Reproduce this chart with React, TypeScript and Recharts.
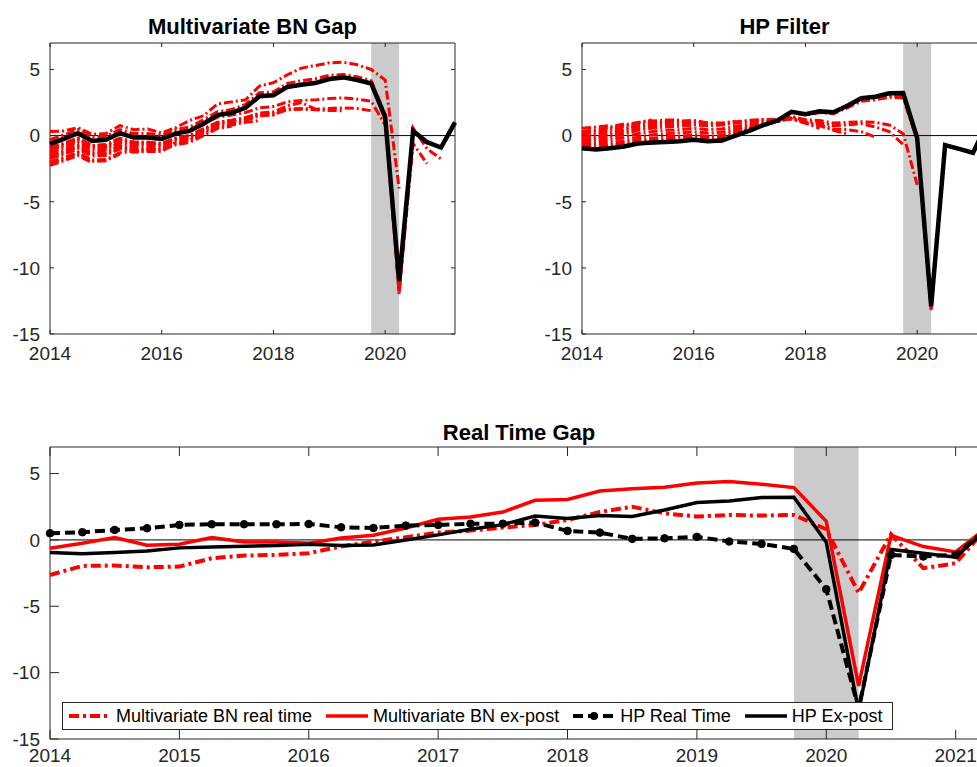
import React from "react";
import { LineChart, Line, XAxis, YAxis, ReferenceLine, ReferenceArea, Legend } from "recharts";

// quarterly dates, 2014Q1 .. 2021Q2
const QUARTERS = [
    2014, 2014.25, 2014.5, 2014.75, 2015, 2015.25, 2015.5, 2015.75, 2016, 2016.25,
    2016.5, 2016.75, 2017, 2017.25, 2017.5, 2017.75, 2018, 2018.25, 2018.5, 2018.75,
    2019, 2019.25, 2019.5, 2019.75, 2020, 2020.25, 2020.5, 2020.75, 2021, 2021.25,
];

const Y_TICKS = [-15, -10, -5, 0, 5];
const X_TICKS_TOP = [2014, 2016, 2018, 2020];
const X_TICKS_BOTTOM = [2014, 2015, 2016, 2017, 2018, 2019, 2020, 2021];
const RECESSION = [2019.75, 2020.25];

const bnExPost = [-0.63, -0.25, 0.18, -0.4, -0.32, 0.18, -0.15, -0.15, -0.25, 0.15, 0.35, 0.9, 1.55, 1.72, 2.1, 2.98, 3.05, 3.68, 3.85, 3.97, 4.28, 4.4, 4.2, 3.94, 1.4, -11.0, 0.35, -0.5, -0.9, 1.0];
const bnRealTime = [-2.64, -1.96, -1.93, -2.06, -2.01, -1.38, -1.18, -1.13, -1.0, -0.5, -0.13, 0.2, 0.55, 0.7, 0.93, 1.13, 1.5, 2.1, 2.5, 2.0, 1.76, 1.88, 1.83, 1.88, 0.8, -4.0, 0.43, -2.13, -1.76, 1.0];
const hpExPost = [-0.95, -1.05, -0.95, -0.83, -0.6, -0.53, -0.48, -0.42, -0.32, -0.42, -0.38, 0.0, 0.38, 0.8, 1.15, 1.8, 1.62, 1.83, 1.76, 2.25, 2.82, 2.94, 3.2, 3.22, -0.17, -12.9, -0.72, -1.0, -1.3, 0.9];
const hpRealTime = [0.5, 0.58, 0.75, 0.88, 1.13, 1.18, 1.18, 1.18, 1.2, 0.95, 0.9, 1.08, 1.12, 1.22, 1.22, 1.31, 0.68, 0.55, 0.08, 0.12, 0.23, -0.12, -0.3, -0.68, -3.72, -12.7, -1.13, -1.25, -1.13, 0.9];

// BN gap vintages, each from 2014Q1 to its own last quarter
const bnV2014Q4 = [-2.25, -1.9, -1.5, -2.06];
const bnV2015Q2 = [-2.1, -1.75, -1.35, -1.95, -1.9, -1.38];
const bnV2015Q4 = [-2.0, -1.65, -1.25, -1.85, -1.8, -1.3, -1.2, -1.13];
const bnV2016Q2 = [-1.75, -1.4, -1.0, -1.55, -1.5, -1.0, -1.25, -1.2, -1.2, -0.5];
const bnV2016Q4 = [-1.6, -1.25, -0.85, -1.4, -1.35, -0.85, -1.1, -1.05, -1.05, -0.6, -0.35, 0.2];
const bnV2017Q2 = [-1.5, -1.15, -0.75, -1.3, -1.25, -0.75, -1.05, -1.0, -1.1, -0.7, -0.5, 0.0, 0.55, 0.7];
const bnV2017Q4 = [-1.3, -0.95, -0.55, -1.1, -1.05, -0.55, -0.85, -0.85, -0.95, -0.55, -0.35, 0.15, 0.65, 0.8, 1.0, 1.13];
const bnV2018Q2 = [-1.1, -0.8, -0.4, -0.95, -0.9, -0.4, -0.7, -0.7, -0.8, -0.4, -0.2, 0.3, 0.8, 0.95, 1.15, 1.5, 1.55, 2.1];
const bnV2018Q4 = [-0.9, -0.6, -0.2, -0.75, -0.7, -0.2, -0.5, -0.5, -0.6, -0.2, 0.0, 0.5, 1.0, 1.15, 1.35, 1.7, 1.8, 2.25, 2.5, 2.0];
const bnV2019Q2 = [-1.0, -0.7, -0.3, -0.85, -0.8, -0.3, -0.6, -0.6, -0.7, -0.3, -0.1, 0.4, 0.9, 1.05, 1.25, 1.55, 1.6, 1.95, 2.0, 1.95, 1.9, 1.88];
const bnV2019Q4 = [-0.9, -0.6, -0.2, -0.75, -0.7, -0.2, -0.5, -0.5, -0.6, -0.2, 0.0, 0.5, 1.0, 1.15, 1.35, 1.65, 1.7, 2.0, 2.05, 2.0, 2.05, 2.1, 2.05, 1.88];
const bnV2020Q1 = [-0.5, -0.2, 0.2, -0.35, -0.3, 0.2, -0.1, -0.1, -0.2, 0.2, 0.4, 0.9, 1.4, 1.55, 1.75, 2.1, 2.2, 2.55, 2.65, 2.7, 2.8, 2.85, 2.75, 2.6, 0.8];
const bnV2020Q2 = [0.3, 0.35, 0.6, 0.1, 0.15, 0.75, 0.45, 0.5, 0.2, 0.6, 1.15, 1.5, 2.4, 2.55, 2.7, 3.75, 4.0, 4.6, 5.1, 5.3, 5.5, 5.55, 5.35, 5.0, 4.2, -4.0];
const bnV2020Q3 = [-0.3, 0.05, 0.45, -0.1, -0.05, 0.45, 0.15, 0.15, 0.05, 0.45, 0.65, 1.2, 1.8, 1.97, 2.35, 3.25, 3.3, 3.95, 4.15, 4.3, 4.55, 4.62, 4.45, 4.15, 1.6, -12.0, 0.43];
const bnV2020Q4 = [-0.55, -0.15, 0.25, -0.3, -0.25, 0.25, -0.05, -0.05, -0.15, 0.25, 0.45, 1.0, 1.6, 1.8, 2.15, 3.05, 3.1, 3.75, 3.9, 4.05, 4.35, 4.45, 4.25, 4.0, 1.45, -11.8, -0.6, -2.13];
const bnV2021Q1 = [-0.6, -0.2, 0.2, -0.35, -0.3, 0.2, -0.1, -0.1, -0.2, 0.2, 0.4, 0.95, 1.55, 1.75, 2.1, 3.0, 3.05, 3.7, 3.85, 4.0, 4.3, 4.4, 4.2, 3.95, 1.35, -11.9, 0.58, -1.0, -1.76];

// HP filter vintages
const hpV2014Q3 = [0.55, 0.65, 0.75];
const hpV2014Q4 = [0.3, 0.45, 0.65, 0.88];
const hpV2015Q2 = [0.1, 0.3, 0.55, 0.8, 1.0, 1.18];
const hpV2015Q4 = [-0.1, 0.1, 0.4, 0.7, 0.95, 1.1, 1.18, 1.18];
const hpV2016Q2 = [-0.3, -0.1, 0.2, 0.5, 0.8, 0.95, 1.05, 1.1, 1.15, 0.95];
const hpV2016Q4 = [-0.4, -0.2, 0.1, 0.4, 0.7, 0.85, 0.95, 1.0, 1.05, 0.95, 0.95, 1.08];
const hpV2017Q2 = [-0.5, -0.35, -0.05, 0.25, 0.55, 0.7, 0.8, 0.85, 0.9, 0.85, 0.9, 1.05, 1.15, 1.22];
const hpV2017Q4 = [-0.6, -0.5, -0.2, 0.1, 0.4, 0.55, 0.65, 0.7, 0.8, 0.75, 0.8, 0.95, 1.1, 1.2, 1.25, 1.31];
const hpV2018Q2 = [-0.7, -0.65, -0.4, -0.15, 0.15, 0.3, 0.4, 0.45, 0.55, 0.45, 0.5, 0.7, 0.9, 1.05, 1.15, 1.25, 0.95, 0.55];
const hpV2018Q4 = [-0.8, -0.8, -0.6, -0.4, -0.1, 0.05, 0.15, 0.2, 0.3, 0.2, 0.25, 0.5, 0.75, 0.95, 1.1, 1.3, 0.95, 0.75, 0.4, 0.12];
const hpV2019Q2 = [-0.85, -0.9, -0.75, -0.55, -0.3, -0.2, -0.1, -0.05, 0.05, -0.05, 0.0, 0.35, 0.65, 0.9, 1.05, 1.3, 1.0, 0.85, 0.5, 0.45, 0.3, -0.12];
const hpV2019Q4 = [-0.9, -0.95, -0.85, -0.7, -0.45, -0.35, -0.3, -0.25, -0.1, -0.2, -0.2, 0.2, 0.55, 0.85, 1.05, 1.4, 1.1, 1.0, 0.75, 0.8, 0.9, 0.65, 0.3, -0.68];
const hpV2020Q1 = [-0.9, -1.0, -0.9, -0.75, -0.5, -0.45, -0.4, -0.35, -0.2, -0.3, -0.3, 0.1, 0.5, 0.85, 1.05, 1.45, 1.2, 1.15, 0.95, 1.0, 1.05, 1.0, 0.8, 0.15, -3.72];
const hpV2020Q2 = [-0.95, -1.05, -0.95, -0.85, -0.62, -0.55, -0.5, -0.43, -0.33, -0.45, -0.42, -0.02, 0.33, 0.78, 1.12, 1.75, 1.55, 1.75, 1.65, 2.1, 2.6, 2.7, 2.9, 2.85, -0.35, -13.2];
const hpV2020Q3 = [-0.95, -1.05, -0.95, -0.84, -0.61, -0.54, -0.49, -0.43, -0.33, -0.44, -0.4, -0.01, 0.35, 0.79, 1.13, 1.77, 1.58, 1.78, 1.7, 2.18, 2.7, 2.8, 3.0, 3.0, -0.3, -13.1, -0.75];
const hpV2020Q4 = [-0.95, -1.05, -0.95, -0.84, -0.6, -0.54, -0.49, -0.42, -0.32, -0.43, -0.39, 0.0, 0.36, 0.8, 1.14, 1.78, 1.6, 1.8, 1.72, 2.2, 2.75, 2.85, 3.05, 3.05, -0.25, -13.0, -0.74, -1.05];
const hpV2021Q1 = [-0.95, -1.05, -0.95, -0.83, -0.6, -0.53, -0.48, -0.42, -0.32, -0.42, -0.38, 0.0, 0.37, 0.8, 1.15, 1.79, 1.61, 1.82, 1.74, 2.22, 2.78, 2.9, 3.1, 3.12, -0.2, -12.95, -0.73, -1.02, -1.3];

const BN_VINTAGES = [bnV2014Q4, bnV2015Q2, bnV2015Q4, bnV2016Q2, bnV2016Q4, bnV2017Q2, bnV2017Q4, bnV2018Q2, bnV2018Q4, bnV2019Q2, bnV2019Q4, bnV2020Q1, bnV2020Q2, bnV2020Q3, bnV2020Q4, bnV2021Q1];
const HP_VINTAGES = [hpV2014Q3, hpV2014Q4, hpV2015Q2, hpV2015Q4, hpV2016Q2, hpV2016Q4, hpV2017Q2, hpV2017Q4, hpV2018Q2, hpV2018Q4, hpV2019Q2, hpV2019Q4, hpV2020Q1, hpV2020Q2, hpV2020Q3, hpV2020Q4, hpV2021Q1];

const FONT = '"Liberation Sans", Arial, Helvetica, sans-serif';
const AXIS = "#262626";
const RED = "#ff0000";
const SHADE = "#cbcbcb";

function buildRows(series: Record<string, number[]>) {
    return QUARTERS.map((t, i) => {
        const row: Record<string, number | null> = { t };
        for (const [k, arr] of Object.entries(series)) row[k] = i < arr.length ? arr[i] : null;
        return row;
    });
}

const topLeftRows = buildRows({
    ex: bnExPost,
    ...Object.fromEntries(BN_VINTAGES.map((v, i) => [`v${i}`, v])),
});
const topRightRows = buildRows({
    ex: hpExPost,
    ...Object.fromEntries(HP_VINTAGES.map((v, i) => [`v${i}`, v])),
});
const bottomRows = buildRows({ bnRT: bnRealTime, bnEx: bnExPost, hpRT: hpRealTime, hpEx: hpExPost });

type Box = { top: number; bottom: number; left: number; right: number; len: number; labelDy: number };

function makeXTick(b: Box) {
    return (props: any) => {
        const { x, payload } = props;
        return (
            <g>
                <line x1={x} x2={x} y1={b.bottom} y2={b.bottom - b.len} stroke={AXIS} />
                <line x1={x} x2={x} y1={b.top} y2={b.top + b.len} stroke={AXIS} />
                <text x={x} y={b.bottom + b.labelDy} textAnchor="middle" fontSize={19} fill={AXIS} fontFamily={FONT}>
                    {payload.value}
                </text>
            </g>
        );
    };
}

function makeYTick(b: Box) {
    return (props: any) => {
        const { y, payload } = props;
        return (
            <g>
                <line x1={b.left} x2={b.left + b.len} y1={y} y2={y} stroke={AXIS} />
                <line x1={b.right} x2={b.right - b.len} y1={y} y2={y} stroke={AXIS} />
                <text x={b.left - 10} y={y + 6.8} textAnchor="end" fontSize={19} fill={AXIS} fontFamily={FONT}>
                    {payload.value}
                </text>
            </g>
        );
    };
}

const TOP_BOX: Box = { top: 43, bottom: 334, left: 50, right: 455, len: 4, labelDy: 26 };
const BOTTOM_BOX: Box = { top: 37, bottom: 329, left: 50, right: 988, len: 9, labelDy: 23 };

function VintagePanel({ rows, count }: { rows: any[]; count: number }) {
    return (
        <LineChart width={470} height={370} data={rows} margin={{ top: 43, right: 15, bottom: 6, left: 0 }}>
            <ReferenceArea x1={RECESSION[0]} x2={RECESSION[1]} fill={SHADE} fillOpacity={1} stroke="none" />
            <XAxis
                dataKey="t"
                type="number"
                domain={[2014, 2021.25]}
                ticks={X_TICKS_TOP}
                interval={0}
                height={30}
                axisLine={false}
                tickLine={false}
                tick={makeXTick(TOP_BOX)}
            />
            <YAxis
                type="number"
                domain={[-15, 7]}
                ticks={Y_TICKS}
                interval={0}
                width={50}
                axisLine={false}
                tickLine={false}
                tick={makeYTick(TOP_BOX)}
            />
            <ReferenceLine y={0} stroke="#000" strokeWidth={1} />
            {Array.from({ length: count }).map((_, i) => (
                <Line
                    key={i}
                    dataKey={`v${i}`}
                    type="linear"
                    stroke={RED}
                    strokeWidth={3}
                    strokeDasharray="9 3 2 3"
                    dot={false}
                    isAnimationActive={false}
                />
            ))}
            <Line dataKey="ex" type="linear" stroke="#000" strokeWidth={4.5} dot={false} isAnimationActive={false} />
            <ReferenceArea x1={2014} x2={2021.25} y1={-15} y2={7} fill="none" stroke={AXIS} strokeWidth={1} />
        </LineChart>
    );
}

const LEGEND_ITEMS = [
    { label: "Multivariate BN real time", color: RED, dash: "10 4 3 4", width: 4, dot: false },
    { label: "Multivariate BN ex-post", color: RED, dash: undefined, width: 3.5, dot: false },
    { label: "HP Real Time", color: "#000", dash: "10 5", width: 4, dot: true },
    { label: "HP Ex-post", color: "#000", dash: undefined, width: 3.5, dot: false },
];

function renderLegend() {
    return (
        <div
            style={{
                display: "flex",
                alignItems: "center",
                width: 831,
                height: 28,
                boxSizing: "border-box",
                border: `1px solid ${AXIS}`,
                background: "#fff",
                paddingLeft: 6,
                fontFamily: FONT,
                fontSize: 18,
                color: "#000",
                whiteSpace: "nowrap",
            }}
        >
            {LEGEND_ITEMS.map((it) => (
                <div key={it.label} style={{ display: "flex", alignItems: "center", marginRight: 14 }}>
                    <svg width={42} height={12}>
                        <line x1={0} x2={42} y1={6} y2={6} stroke={it.color} strokeWidth={it.width} strokeDasharray={it.dash} />
                        {it.dot && <circle cx={21} cy={6} r={4} fill="#000" />}
                    </svg>
                    <span style={{ marginLeft: 5 }}>{it.label}</span>
                </div>
            ))}
        </div>
    );
}

function BottomPanel() {
    return (
        <LineChart width={1000} height={357} data={bottomRows} margin={{ top: 37, right: 12, bottom: 0, left: 0 }}>
            <ReferenceArea x1={RECESSION[0]} x2={RECESSION[1]} fill={SHADE} fillOpacity={1} stroke="none" />
            <XAxis
                dataKey="t"
                type="number"
                domain={[2014, 2021.25]}
                ticks={X_TICKS_BOTTOM}
                interval={0}
                height={28}
                axisLine={false}
                tickLine={false}
                tick={makeXTick(BOTTOM_BOX)}
            />
            <YAxis
                type="number"
                domain={[-15, 7]}
                ticks={Y_TICKS}
                interval={0}
                width={50}
                axisLine={false}
                tickLine={false}
                tick={makeYTick(BOTTOM_BOX)}
            />
            <ReferenceLine y={0} stroke="#000" strokeWidth={1} />
            <Line dataKey="bnRT" type="linear" stroke={RED} strokeWidth={4} strokeDasharray="10 4 3 4" dot={false} isAnimationActive={false} />
            <Line dataKey="bnEx" type="linear" stroke={RED} strokeWidth={3.5} dot={false} isAnimationActive={false} />
            <Line
                dataKey="hpRT"
                type="linear"
                stroke="#000"
                strokeWidth={4}
                strokeDasharray="10 5"
                dot={{ r: 3.8, fill: "#000", stroke: "#000", strokeWidth: 1, strokeDasharray: "0" }}
                isAnimationActive={false}
            />
            <Line dataKey="hpEx" type="linear" stroke="#000" strokeWidth={3.5} dot={false} isAnimationActive={false} />
            <ReferenceArea x1={2014} x2={2021.25} y1={-15} y2={7} fill="none" stroke={AXIS} strokeWidth={1} />
            <Legend
                layout="vertical"
                align="center"
                verticalAlign="middle"
                content={renderLegend}
                wrapperStyle={{ left: 62, top: 292, width: 831, height: 28 }}
            />
        </LineChart>
    );
}

const titleStyle: React.CSSProperties = {
    position: "absolute",
    textAlign: "center",
    fontFamily: FONT,
    fontWeight: "bold",
    fontSize: 22,
    lineHeight: "24px",
    color: "#000",
};

export default function App() {
    return (
        <div
            style={{
                position: "fixed",
                left: 0,
                top: 0,
                width: 977,
                height: 767,
                overflow: "hidden",
                background: "#fff",
            }}
        >
            <div style={{ ...titleStyle, left: 50, top: 15, width: 405 }}>Multivariate BN Gap</div>
            <div style={{ ...titleStyle, left: 582, top: 15, width: 405 }}>HP Filter</div>
            <div style={{ ...titleStyle, left: 50, top: 421, width: 938 }}>Real Time Gap</div>

            <div style={{ position: "absolute", left: 0, top: 0 }}>
                <VintagePanel rows={topLeftRows} count={BN_VINTAGES.length} />
            </div>
            <div style={{ position: "absolute", left: 532, top: 0 }}>
                <VintagePanel rows={topRightRows} count={HP_VINTAGES.length} />
            </div>
            <div style={{ position: "absolute", left: 0, top: 410 }}>
                <BottomPanel />
            </div>
        </div>
    );
}
